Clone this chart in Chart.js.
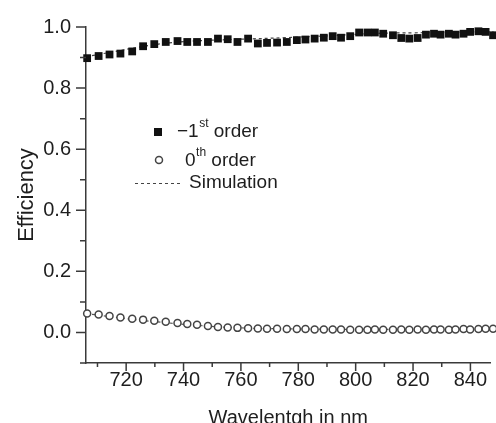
<!DOCTYPE html>
<html>
<head>
<meta charset="utf-8">
<script src="https://cdn.jsdelivr.net/npm/chart.js@4"></script>
<style>
  body { margin: 0; background: #fff; }
  #wrap { width: 496px; height: 423px; }
</style>
</head>
<body>
<div id="wrap"><canvas id="chart" width="496" height="423"></canvas></div>
<script>
// measured points (nm)
const wavelengths = [706.4, 710.4, 714.2, 718.0, 722.1, 725.9, 729.8, 733.8, 737.9, 741.3,
  744.7, 748.5, 752.0, 755.4, 758.8, 762.5, 765.9, 769.1, 772.6, 776.0,
  779.5, 782.5, 785.7, 788.9, 792.0, 794.9, 798.1, 801.2, 804.1, 806.7,
  809.6, 813.0, 815.9, 818.7, 821.6, 824.5, 827.3, 829.6, 832.5, 834.8,
  837.6, 839.9, 842.8, 845.3, 847.9];
const firstOrder = [0.898, 0.905, 0.910, 0.913, 0.920, 0.937, 0.944, 0.951, 0.954, 0.951,
  0.951, 0.951, 0.962, 0.960, 0.951, 0.962, 0.946, 0.948, 0.949, 0.951,
  0.957, 0.959, 0.962, 0.965, 0.970, 0.965, 0.970, 0.982, 0.982, 0.982,
  0.978, 0.973, 0.964, 0.962, 0.964, 0.975, 0.978, 0.975, 0.978, 0.975,
  0.978, 0.984, 0.986, 0.984, 0.973];
const zeroOrder = [0.062, 0.059, 0.054, 0.049, 0.045, 0.042, 0.038, 0.035, 0.031, 0.028,
  0.025, 0.021, 0.018, 0.016, 0.015, 0.014, 0.013, 0.012, 0.012, 0.011,
  0.011, 0.011, 0.010, 0.010, 0.010, 0.010, 0.009, 0.009, 0.009, 0.010,
  0.009, 0.009, 0.010, 0.009, 0.010, 0.009, 0.010, 0.010, 0.009, 0.010,
  0.011, 0.010, 0.011, 0.012, 0.012];

// simulation curves
const simWavelengths = [706, 715, 725, 735, 745, 760, 775, 790, 800, 810, 820, 830, 840, 848];
const simFirst = [0.903, 0.918, 0.935, 0.948, 0.955, 0.960, 0.965, 0.971, 0.976, 0.980, 0.981, 0.982, 0.984, 0.985];
const simZero = [0.062, 0.051, 0.040, 0.031, 0.023, 0.015, 0.012, 0.011, 0.010, 0.010, 0.010, 0.010, 0.011, 0.012];

// axis ticks
const xTicks = [710, 720, 730, 740, 750, 760, 770, 780, 790, 800, 810, 820, 830, 840];
const xLabels = [720, 740, 760, 780, 800, 820, 840];
const yTicks = [-0.1, 0, 0.1, 0.2, 0.3, 0.4, 0.5, 0.6, 0.7, 0.8, 0.9, 1.0];
const yLabels = [0, 0.2, 0.4, 0.6, 0.8, 1.0];

const FONT = 'Liberation Sans, Arial, sans-serif';
const INK = '#1e1e1e';
const AXIS = '#3a3a3a';

const toXY = (xs, ys) => xs.map((x, i) => ({ x, y: ys[i] }));
const isLabel = (list, v) => list.some(l => Math.abs(l - v) < 1e-6);

// tick marks, long for labelled ticks and short for the others
const tickMarks = {
  id: 'tickMarks',
  afterDraw(chart) {
    const { ctx, chartArea, scales: { x, y } } = chart;
    ctx.save();
    ctx.strokeStyle = AXIS;
    ctx.lineWidth = 1.5;
    ctx.beginPath();
    xTicks.forEach(v => {
      const px = x.getPixelForValue(v);
      const len = isLabel(xLabels, v) ? 8 : 4;
      ctx.moveTo(px, chartArea.bottom);
      ctx.lineTo(px, chartArea.bottom + len);
    });
    yTicks.forEach(v => {
      const py = y.getPixelForValue(v);
      const len = isLabel(yLabels, v) ? 10 : 6;
      ctx.moveTo(chartArea.left, py);
      ctx.lineTo(chartArea.left - len, py);
    });
    ctx.stroke();
    ctx.restore();
  }
};

// legend with superscripts
const legendBox = {
  id: 'legendBox',
  afterDraw(chart) {
    const ctx = chart.ctx;
    ctx.save();
    ctx.fillStyle = INK;
    ctx.textBaseline = 'middle';

    const row = (x, yy, base, sup, rest) => {
      ctx.font = '19px ' + FONT;
      ctx.fillText(base, x, yy);
      x += ctx.measureText(base).width + 0.5;
      if (sup) {
        ctx.font = '12px ' + FONT;
        ctx.fillText(sup, x, yy - 8);
        x += ctx.measureText(sup).width;
      }
      ctx.font = '19px ' + FONT;
      ctx.fillText(rest, x, yy);
    };

    // -1st order
    ctx.fillStyle = '#111';
    ctx.fillRect(154, 128, 8, 8);
    ctx.fillStyle = INK;
    row(177, 132, '\u22121', 'st', ' order');

    // 0th order
    ctx.beginPath();
    ctx.arc(159, 160, 3.5, 0, Math.PI * 2);
    ctx.strokeStyle = '#444';
    ctx.lineWidth = 1.5;
    ctx.stroke();
    row(185, 161, '0', 'th', ' order');

    // Simulation
    ctx.beginPath();
    ctx.setLineDash([3, 3]);
    ctx.strokeStyle = '#444';
    ctx.lineWidth = 1.2;
    ctx.moveTo(135, 183.5);
    ctx.lineTo(180, 183.5);
    ctx.stroke();
    ctx.setLineDash([]);
    row(189, 183, 'Simulation', '', '');
    ctx.restore();
  }
};

new Chart(document.getElementById('chart'), {
  type: 'scatter',
  data: {
    datasets: [
      {
        label: '-1st order',
        data: toXY(wavelengths, firstOrder),
        pointStyle: 'rect',
        pointRadius: 5.5,
        backgroundColor: '#111',
        borderColor: '#111',
        borderWidth: 0,
        order: 1
      },
      {
        label: '0th order',
        data: toXY(wavelengths, zeroOrder),
        pointStyle: 'circle',
        pointRadius: 3.5,
        backgroundColor: '#fff',
        borderColor: '#444',
        borderWidth: 1.5,
        order: 2
      },
      {
        label: 'Simulation',
        data: toXY(simWavelengths, simFirst),
        showLine: true,
        pointRadius: 0,
        borderColor: '#444',
        borderWidth: 1.2,
        borderDash: [3, 3],
        tension: 0.4,
        order: 3
      },
      {
        label: 'Simulation 0th',
        data: toXY(simWavelengths, simZero),
        showLine: true,
        pointRadius: 0,
        borderColor: '#555',
        borderWidth: 1.2,
        borderDash: [3, 3],
        tension: 0.4,
        order: 4
      }
    ]
  },
  options: {
    responsive: false,
    devicePixelRatio: 1,
    animation: false,
    clip: false,
    layout: { padding: { top: 23, right: 0, bottom: 0, left: 0 } },
    plugins: {
      legend: { display: false },
      tooltip: { enabled: false }
    },
    scales: {
      x: {
        type: 'linear',
        min: 706,
        max: 847,
        afterFit: s => { s.height = 60; },
        afterBuildTicks: s => { s.ticks = xTicks.map(v => ({ value: v })); },
        ticks: {
          autoSkip: false,
          maxRotation: 0,
          padding: 5,
          color: INK,
          font: { family: FONT, size: 20 },
          callback: v => isLabel(xLabels, v) ? String(v) : ''
        },
        grid: { display: false, drawTicks: false },
        border: { display: true, color: AXIS, width: 1.5 },
        title: {
          display: true,
          text: 'Wavelentgh in nm',
          color: INK,
          font: { family: FONT, size: 20, lineHeight: 0.5 },
          padding: { top: 0, bottom: 0 }
        }
      },
      y: {
        min: -0.1,
        max: 1.0,
        afterFit: s => { s.width = 86; },
        afterBuildTicks: s => { s.ticks = yTicks.map(v => ({ value: v })); },
        ticks: {
          autoSkip: false,
          padding: 15,
          color: INK,
          font: { family: FONT, size: 20 },
          callback: v => isLabel(yLabels, v) ? v.toFixed(1) : ''
        },
        grid: { display: false, drawTicks: false },
        border: { display: true, color: AXIS, width: 1.5 },
        title: {
          display: true,
          text: 'Efficiency',
          color: INK,
          font: { family: FONT, size: 22, lineHeight: 1.2 },
          padding: { top: 14, bottom: 0 }
        }
      }
    }
  },
  plugins: [tickMarks, legendBox]
});
</script>
</body>
</html>
